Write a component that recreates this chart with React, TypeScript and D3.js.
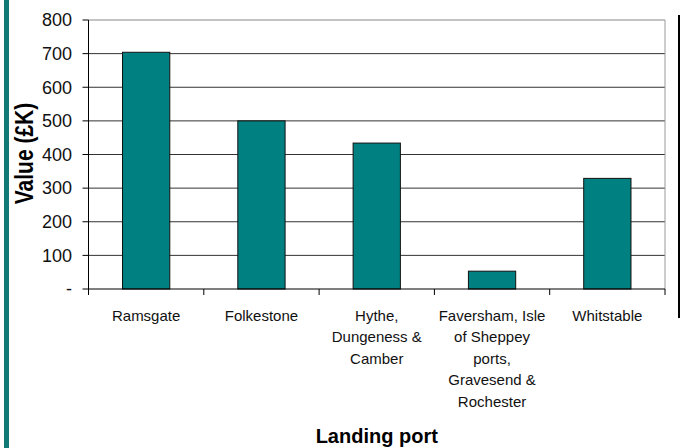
import * as d3 from "d3";

const ports = [
  "Ramsgate",
  "Folkestone",
  "Hythe, Dungeness & Camber",
  "Faversham, Isle of Sheppey ports, Gravesend & Rochester",
  "Whitstable",
];
const portLines = [
  ["Ramsgate"],
  ["Folkestone"],
  ["Hythe,", "Dungeness &", "Camber"],
  ["Faversham, Isle", "of Sheppey", "ports,", "Gravesend &", "Rochester"],
  ["Whitstable"],
];
const values = [704, 500, 434, 53, 329];
const yTicks = [0, 100, 200, 300, 400, 500, 600, 700, 800];
const yTickLabels = ["-", "100", "200", "300", "400", "500", "600", "700", "800"];

const W = 682;
const H = 448;
const left = 88.5;
const right = 665;
const top = 20;
const bottom = 289;
const font = "'Liberation Sans', Arial, sans-serif";

export default function App() {
  const x = d3.scaleBand<string>().domain(ports).range([left, right]).paddingInner(0.59).paddingOuter(0.295);
  const y = d3.scaleLinear().domain([0, 800]).range([bottom, top]);
  const step = x.step();

  return (
    <svg
      width={W}
      height={H}
      style={{ position: "absolute", left: 0, top: 0, background: "#fff" }}
      fontFamily={font}
    >
      <rect x={4} y={0} width={5} height={H} fill="#117a76" />

      {/* gridlines */}
      {yTicks.slice(1, -1).map((t) => (
        <line key={t} x1={left} x2={right} y1={y(t)} y2={y(t)} stroke="#333" strokeWidth={1} />
      ))}
      {/* plot border top/right */}
      <line x1={left} x2={right} y1={y(800)} y2={y(800)} stroke="#888" />
      <line x1={right} x2={right} y1={top} y2={bottom} stroke="#999" />

      {/* bars */}
      {ports.map((p, i) => (
        <rect
          key={p}
          x={x(p)}
          y={y(values[i])}
          width={x.bandwidth()}
          height={bottom - y(values[i])}
          fill="#008080"
          stroke="#111"
          strokeWidth={1}
        />
      ))}

      {/* axes */}
      <line x1={left} x2={left} y1={top} y2={bottom} stroke="#000" />
      <line x1={left} x2={right} y1={bottom} y2={bottom} stroke="#000" />
      {yTicks.map((t, i) => (
        <g key={t}>
          <line x1={left - 6} x2={left} y1={y(t)} y2={y(t)} stroke="#000" />
          <text x={72} y={y(t)} dy="0.35em" textAnchor="end" fontSize={18} fill="#111">
            {yTickLabels[i]}
          </text>
        </g>
      ))}
      {d3.range(ports.length + 1).map((i) => (
        <line key={i} x1={left + i * step} x2={left + i * step} y1={bottom} y2={bottom + 6} stroke="#000" />
      ))}
      {ports.map((p, i) => (
        <text key={p} textAnchor="middle" fontSize={15} fill="#111">
          {portLines[i].map((l, j) => (
            <tspan key={j} x={(x(p) ?? 0) + x.bandwidth() / 2} y={321 + j * 21.4}>
              {l}
            </tspan>
          ))}
        </text>
      ))}

      {/* titles */}
      <text x={(left + right) / 2} y={443} textAnchor="middle" fontSize={20} fontWeight="bold" fill="#000">
        Landing port
      </text>
      <text
        transform={`translate(33,${(100 + 207) / 2}) rotate(-90) scale(1,1.2)`}
        textAnchor="middle"
        fontSize={21}
        fontWeight="bold"
        fill="#000"
      >
        Value (£K)
      </text>

      {/* right-hand rule */}
      <line x1={679} x2={679} y1={15} y2={318} stroke="#000" strokeWidth={2} />
    </svg>
  );
}
